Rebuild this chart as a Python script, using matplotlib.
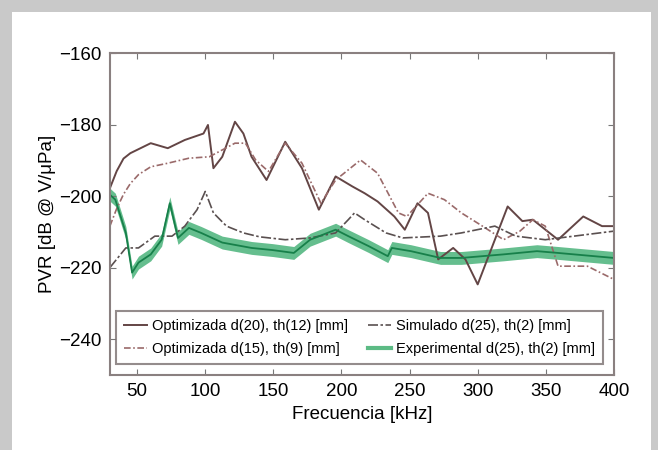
import numpy as np
import matplotlib.pyplot as plt
from matplotlib.patches import Rectangle

plt.rcParams['font.family'] = ['Liberation Sans', 'DejaVu Sans']

# Optimizada d(20), th(12) - solid
f_opt20 = [30, 35, 40, 45, 60, 72.5, 85, 98.7, 102, 106, 112.5, 121.8, 128, 134, 145, 158.7, 171,
           183.4, 195.7, 208, 217, 226.5, 238.8, 246.5, 255.8, 263.5, 271, 282, 291, 300,
           322, 332.8, 340.5, 359, 377.5, 391.3, 400]
pvr_opt20 = [-197.8, -193, -189.5, -188, -185.2, -186.6, -184.3, -182.5, -180.1, -192.2, -189, -179.2,
             -182.5, -189, -195.5, -184.8, -192.2, -203.8, -194.5, -197.3, -199.2, -201.5,
             -205.7, -209.4, -202, -204.7, -217.7, -214.5, -217.7, -224.7, -202.9, -207,
             -206.6, -212.2, -205.7, -208.4, -208.4]

# Optimizada d(15), th(9) - dashed
f_opt15 = [30, 35, 40, 45, 51, 60, 72.5, 88, 103, 121.8, 129.5, 137, 146.4, 158.7, 171, 184.9,
           195.7, 214, 226.5, 241.8, 248, 263.5, 275.6, 288, 303.5, 319, 331, 340.5, 349.6,
           359, 380.5, 400]
pvr_opt15 = [-208.4, -203.5, -199.5, -196.5, -194, -191.8, -190.8, -189.4, -189, -185.2, -185.2,
             -189.9, -193.1, -185.2, -190.8, -202, -195.5, -189.9, -193.6, -204.7, -205.7,
             -199.2, -201, -204.7, -208.4, -212.2, -209.8, -206.6, -208.4, -219.6, -219.6,
             -223.3]

# Simulado d(25), th(2) - dash-dot
f_sim = [30, 41.7, 51, 63, 75.6, 85, 94, 100, 106, 115.6, 128, 140, 158.7, 177, 195.7, 205,
         209.6, 217, 232.7, 245, 272.7, 288, 312.6, 328, 349.6, 400]
pvr_sim = [-220, -214.5, -214.5, -211.2, -211.2, -208.4, -203.8, -198.7, -204.7, -208.4,
           -210.3, -211.4, -212.2, -211.7, -210.3, -206.6, -204.7, -206.6, -210.3, -211.7,
           -211.2, -210.3, -208.4, -211.2, -212.2, -209.8]

# Experimental d(25), th(2) - green band
f_exp = [30, 34, 41.7, 46.3, 51, 60, 68, 74, 80, 88, 97, 112.5, 134, 149.5, 165, 177, 195.7,
         205, 220, 234, 237, 251, 272.7, 288, 319, 343.5, 359, 400]
pvr_exp = [-199.6, -201, -210.3, -221.4, -218.6, -216.3, -212.2, -202, -211.7, -208.9,
           -210.3, -213, -214.5, -215.1, -215.9, -212.2, -209.4, -211.2, -214, -216.8,
           -214.5, -215.4, -217.3, -217.3, -216.3, -215.4, -215.9, -217.3]
exp_band = 1.8

fig = plt.figure(figsize=(6.58, 4.5), dpi=100)
fig.patch.set_facecolor('#c9c9c9')
card = Rectangle((12 / 658, 0), (651 - 12) / 658, 1 - 12 / 450,
                 transform=fig.transFigure, facecolor='white', edgecolor='none', zorder=-10)
fig.patches.append(card)

ax = fig.add_axes([0.167, 0.167, 0.766, 0.715])
ax.set_zorder(5)
ax.set_facecolor('white')

ax.plot(f_opt20, pvr_opt20, color='#634545', lw=1.4, label='Optimizada d(20), th(12) [mm]')
ax.plot(f_opt15, pvr_opt15, color='#9a6a6a', lw=1.2, ls=(0, (4, 1.5, 1, 1.5)),
        label='Optimizada d(15), th(9) [mm]')
ax.plot(f_sim, pvr_sim, color='#5a5050', lw=1.2, ls=(0, (6, 1.5, 1.5, 1.5)),
        label='Simulado d(25), th(2) [mm]')
exp = np.array(pvr_exp)
ax.fill_between(f_exp, exp - exp_band, exp + exp_band, color='#3fae72', alpha=0.8, lw=0)
ax.plot(f_exp, pvr_exp, color='#17804a', lw=1.3)
ax.plot([], [], color='#5cbb85', lw=3, label='Experimental d(25), th(2) [mm]')

ax.set_xlim(30, 400)
ax.set_ylim(-250, -160)
ax.set_xticks([50, 100, 150, 200, 250, 300, 350, 400])
ax.set_yticks([-160, -180, -200, -220, -240])
ax.set_yticklabels(['\u2212160', '\u2212180', '\u2212200', '\u2212220', '\u2212240'])
ax.tick_params(direction='in', top=True, right=True, length=4, color='#777777',
               labelsize=13.5, pad=6)
for s in ax.spines.values():
    s.set_color('#8a8080')
    s.set_linewidth(1.5)

ax.set_xlabel('Frecuencia [kHz]', fontsize=13.5, labelpad=4)
ax.set_ylabel('PVR [dB @ V/\u03bcPa]', fontsize=13.5, labelpad=2)

handles, labels = ax.get_legend_handles_labels()
leg = ax.legend(handles, labels, ncol=2,
                loc='lower center', bbox_to_anchor=(0.495, 0.01), fontsize=10.5,
                frameon=True, fancybox=False, handlelength=1.6, handletextpad=0.3,
                columnspacing=1.4, borderpad=0.55, labelspacing=0.65)
leg.get_frame().set_edgecolor('#7a7070')
leg.get_frame().set_linewidth(1.5)

fig.savefig('out.png', dpi=100)
